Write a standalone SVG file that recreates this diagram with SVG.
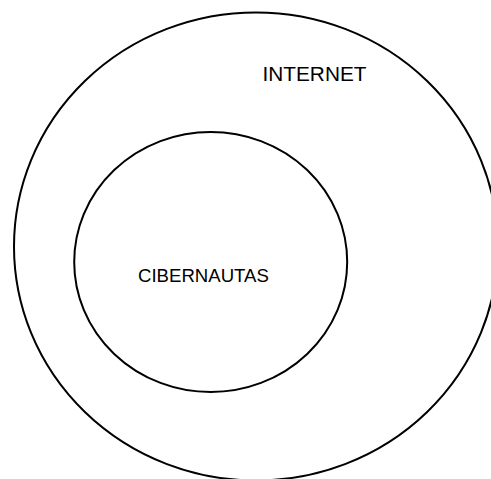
<svg xmlns="http://www.w3.org/2000/svg" width="491" height="479" viewBox="0 0 491 479">
<style>
.shape{fill:none;stroke:#000;stroke-width:2}
.lbl{font-family:"Liberation Sans",Arial,sans-serif;fill:#000}
</style>
<rect width="491" height="479" fill="#fff"/>
<g id="internet">
<ellipse class="shape" cx="256" cy="246.5" rx="242" ry="234"/>
<text class="lbl" x="262.5" y="81" font-size="20.8">INTERNET</text>
</g>
<g id="cibernautas">
<ellipse class="shape" cx="210.7" cy="262" rx="136.5" ry="130"/>
<text class="lbl" x="138" y="281.5" font-size="18.6">CIBERNAUTAS</text>
</g>
<g id="connectors"></g>
</svg>
